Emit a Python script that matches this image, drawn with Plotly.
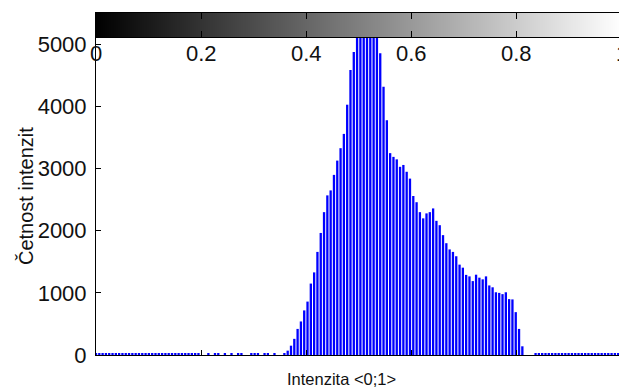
import numpy as np
import plotly.graph_objects as go

# Histogram counts per intensity bin (bins spread evenly over <0;1>)
counts = [
    # dark tail
    28, 30, 31, 29, 30, 32, 30, 29, 31, 30, 28, 30, 31, 29, 30, 30,
    32, 29, 30, 31, 28, 30, 29, 31, 30, 30, 29, 31, 30, 28, 30, 31,
    # sparse low bins
    0, 0, 18, 0, 18, 18, 0, 18, 0, 18, 0, 18, 18, 0, 0, 18,
    18, 18, 0, 18, 18, 0, 18, 0, 0,
    # rising slope
    30, 70, 150, 260, 420, 540, 718, 860, 1150, 1330, 1660, 1965,
    2300, 2570, 2650, 2900, 3130, 3330, 3560, 4030, 4590, 4880,
    # main peak
    5600, 6300, 6900, 7400, 6800, 6100, 5500,
    # falling slope
    4860, 4320, 3780, 3250, 3190, 3150, 3030, 3060, 2950, 2840,
    2560, 2460, 2300, 2200, 2280, 2300, 2360, 2160, 2090, 1930,
    1800, 1700, 1660, 1590, 1455, 1406, 1290, 1266, 1190, 1293,
    1245, 1218, 1266, 1120, 1090, 1010, 1000, 980, 1010, 900,
    895, 690, 420, 140,
    # bright tail
    0, 0, 0, 28,
    30, 29, 31, 30, 30, 28, 31, 30, 29, 30, 31, 30, 30,
    29, 31, 30, 28, 30, 31, 30, 29, 30, 30, 31, 29, 30,
]
n_bins = len(counts)
intensity = [i / (n_bins - 1) for i in range(n_bins)]

y_ticks = [0, 1000, 2000, 3000, 4000, 5000]
x_ticks = [0, 0.2, 0.4, 0.6, 0.8, 1]
x_tick_text = ["0", "0.2", "0.4", "0.6", "0.8", "1"]

y_label = "Četnost intenzit"
x_label = "Intenzita &lt;0;1&gt;"

# gray ramp shown in the strip above the histogram
gray_ramp = np.linspace(0.0, 1.0, 256)

W, H = 619, 389
m_left, m_top, m_bottom = 96, 13, 34
plot_w = W - m_left
plot_h = H - m_top - m_bottom
split = (355 - 37) / plot_h          # histogram axes / gray strip boundary
axis_px = 525.5                      # full 0..1 axis length in pixels
x_view = [0, plot_w / axis_px]       # axes run slightly past the right edge
y_top = 5120

tick_font = dict(family="Liberation Sans, Arial", size=22, color="#111111")
label_font = dict(family="Liberation Sans, Arial", size=20, color="#111111")
xlabel_font = dict(family="Liberation Sans, Arial", size=16.5, color="#111111")

fig = go.Figure()

fig.add_trace(go.Bar(
    x=intensity, y=counts, width=0.0044,
    marker=dict(color="#0000ff", line=dict(width=0)),
    xaxis="x", yaxis="y", showlegend=False,
))

fig.add_trace(go.Heatmap(
    x=gray_ramp, y=[0.5], z=[gray_ramp],
    colorscale=[[0, "#000000"], [1, "#ffffff"]], zmin=0, zmax=1,
    showscale=False, xaxis="x2", yaxis="y2", hoverinfo="skip",
))

line = dict(showline=True, linecolor="black", linewidth=1,
            showgrid=False, zeroline=False)

# intensity tick labels sit just under the gray strip, inside the histogram
tick_notes = [
    dict(text=t, xref="paper", yref="paper",
         x=v * axis_px / plot_w, y=split,
         xanchor="center", yanchor="middle", yshift=-16.5,
         showarrow=False, font=tick_font)
    for v, t in zip(x_ticks, x_tick_text)
]

fig.update_layout(
    width=W, height=H,
    margin=dict(l=m_left, r=0, t=m_top, b=m_bottom, pad=0),
    paper_bgcolor="white", plot_bgcolor="white",
    template="none",
    xaxis=dict(domain=[0, 1], range=x_view, anchor="y", ticks="inside",
               ticklen=5, tickcolor="black", tickvals=x_ticks[:-1],
               showticklabels=False, **line),
    yaxis=dict(domain=[0, split], range=[0, y_top], anchor="x",
               ticks="inside", ticklen=5, tickcolor="black",
               tickvals=y_ticks, tickfont=tick_font, ticklabelstandoff=4,
               **line),
    yaxis3=dict(overlaying="y", side="right", anchor="x", range=[0, y_top],
                ticks="inside", ticklen=4, tickcolor="black", tickvals=y_ticks,
                showticklabels=False, showline=False, showgrid=False,
                zeroline=False),
    xaxis2=dict(domain=[0, 1], range=x_view, anchor="y2", side="bottom",
                mirror="allticks", ticks="inside", ticklen=6,
                tickcolor="black", tickvals=x_ticks[1:-1],
                showticklabels=False, **line),
    yaxis2=dict(domain=[split, 1], range=[0, 1], anchor="x2",
                showticklabels=False, ticks="", **line),
    yaxis4=dict(overlaying="y2", side="right", anchor="x2", range=[0, 1],
                ticks="inside", ticklen=4, tickcolor="black", tickvals=[0.5],
                showticklabels=False, showline=False, showgrid=False,
                zeroline=False),
    annotations=[
        dict(text=y_label, textangle=-90, xref="paper", yref="paper",
             x=(26 - m_left) / plot_w, y=split / 2,
             xanchor="center", yanchor="middle", showarrow=False,
             font=label_font),
        dict(text=x_label, xref="paper", yref="paper",
             x=(341.5 - m_left) / plot_w, y=-24 / plot_h,
             xanchor="center", yanchor="middle", showarrow=False,
             font=xlabel_font),
    ] + tick_notes,
)

fig.write_html("out.html")
